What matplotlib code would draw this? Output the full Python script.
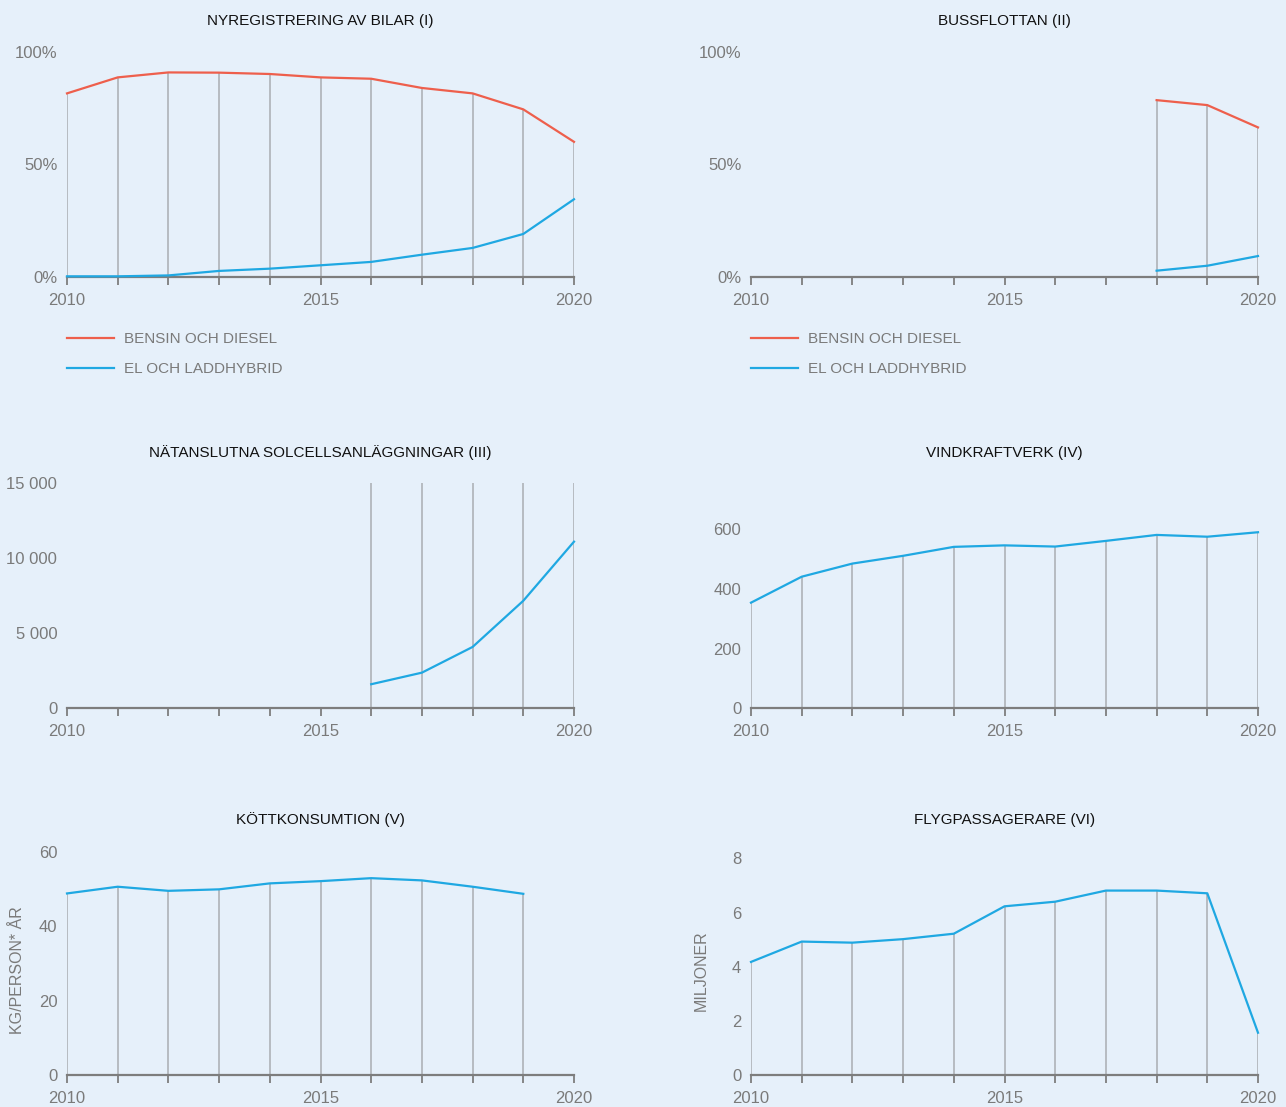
import matplotlib
matplotlib.use('Agg')
import matplotlib.pyplot as plt
import numpy as np
from matplotlib.lines import Line2D

plt.rcParams['font.family'] = ['Liberation Sans', 'DejaVu Sans']

years = list(range(2010, 2021))

bilar_fossil = [81.5, 88.6, 90.8, 90.7, 90.1, 88.6, 88.0, 83.9, 81.5, 74.4, 60.0]
bilar_el = [0.3, 0.3, 0.7, 2.7, 3.7, 5.2, 6.7, 9.9, 12.9, 19.1, 34.5]

buss_years = [2018, 2019, 2020]
buss_fossil = [78.5, 76.3, 66.4]
buss_el = [2.8, 5.0, 9.3]

sol_years = [2016, 2017, 2018, 2019, 2020]
sol = [1600, 2370, 4080, 7150, 11080]

vind = [354, 441, 485, 511, 541, 546, 542, 561, 581, 575, 590]

kott_years = list(range(2010, 2020))
kott = [48.8, 50.6, 49.5, 49.9, 51.5, 52.1, 52.9, 52.3, 50.6, 48.7]

flyg = [4.18, 4.93, 4.89, 5.02, 5.22, 6.23, 6.40, 6.81, 6.81, 6.71, 1.57]

titles = ['NYREGISTRERING AV BILAR (I)', 'BUSSFLOTTAN (II)',
          'NÄTANSLUTNA SOLCELLSANLÄGGNINGAR (III)', 'VINDKRAFTVERK (IV)',
          'KÖTTKONSUMTION (V)', 'FLYGPASSAGERARE (VI)']
legend_labels = ['BENSIN OCH DIESEL', 'EL OCH LADDHYBRID']

BG = '#e6f0fa'
RED = '#ee5f4c'
BLUE = '#1fa8e2'
GRID = '#a9adb2'
AXIS = '#7d7d7d'
TXT = '#7a7a7a'

W, H = 1286, 1107
fig = plt.figure(figsize=(W / 100, H / 100), dpi=100, facecolor=BG)


def make_ax(x0, x1, ytop, ybot):
    ax = fig.add_axes([x0 / W, 1 - ybot / H, (x1 - x0) / W, (ybot - ytop) / H])
    ax.set_facecolor(BG)
    for s in ['top', 'right', 'left']:
        ax.spines[s].set_visible(False)
    ax.spines['bottom'].set_color(AXIS)
    ax.spines['bottom'].set_linewidth(1.6)
    ax.set_xlim(2010, 2020)
    ax.set_xticks(years)
    ax.set_xticklabels([str(y) if y % 5 == 0 else '' for y in years])
    ax.tick_params(axis='x', length=6, width=1.3, color=AXIS, pad=5.5,
                   labelsize=12, labelcolor=TXT)
    ax.tick_params(axis='y', length=0, pad=7, labelsize=12, labelcolor=TXT)
    return ax


def drops(ax, xs, tops):
    ax.vlines(xs, 0, tops, color=GRID, lw=1.1, zorder=1)


def title(ax, text, ypx):
    pos = ax.get_position()
    fig.text(pos.x0 + pos.width / 2, 1 - ypx / H, text, ha='center', va='center',
             fontsize=11, color='#111111')


L1, R1 = 67, 574
L2, R2 = 751, 1258

# (I) nyregistrering
ax1 = make_ax(L1, R1, 51.7, 277)
ax1.set_ylim(0, 100)
ax1.set_yticks([0, 50, 100])
ax1.set_yticklabels(['0%', '50%', '100%'])
drops(ax1, years, bilar_fossil)
ax1.plot(years, bilar_fossil, color=RED, lw=1.6, zorder=3, clip_on=False)
ax1.plot(years, bilar_el, color=BLUE, lw=1.6, zorder=3, clip_on=False)
title(ax1, titles[0], 21)

# (II) bussflottan
ax2 = make_ax(L2, R2, 51.7, 277)
ax2.set_ylim(0, 100)
ax2.set_yticks([0, 50, 100])
ax2.set_yticklabels(['0%', '50%', '100%'])
drops(ax2, buss_years, buss_fossil)
ax2.plot(buss_years, buss_fossil, color=RED, lw=1.6, zorder=3, clip_on=False)
ax2.plot(buss_years, buss_el, color=BLUE, lw=1.6, zorder=3, clip_on=False)
title(ax2, titles[1], 21)

handles = [Line2D([], [], color=RED, lw=1.6), Line2D([], [], color=BLUE, lw=1.6)]
for ax in (ax1, ax2):
    ax.legend(handles, legend_labels, loc='upper left', bbox_to_anchor=(0, -0.245),
              frameon=False, fontsize=11, labelcolor=TXT, handlelength=3.1,
              handletextpad=0.62, labelspacing=1.05, borderpad=0, borderaxespad=0)

# (III) solceller
ax3 = make_ax(L1, R1, 482.7, 708.3)
ax3.set_ylim(0, 15000)
ax3.set_yticks([0, 5000, 10000, 15000])
ax3.set_yticklabels(['0', '5 000', '10 000', '15 000'])
drops(ax3, sol_years, [15000] * len(sol_years))
ax3.plot(sol_years, sol, color=BLUE, lw=1.6, zorder=3, clip_on=False)
title(ax3, titles[2], 453)

# (IV) vindkraft
ax4 = make_ax(L2, R2, 482.7, 708.3)
ax4.set_ylim(0, 756)
ax4.set_yticks([0, 200, 400, 600])
drops(ax4, years, vind)
ax4.plot(years, vind, color=BLUE, lw=1.6, zorder=3, clip_on=False)
title(ax4, titles[3], 453)

# (V) kött
ax5 = make_ax(L1, R1, 851.7, 1075.3)
ax5.set_ylim(0, 60)
ax5.set_yticks([0, 20, 40, 60])
drops(ax5, kott_years, kott)
ax5.plot(kott_years, kott, color=BLUE, lw=1.6, zorder=3, clip_on=False)
ax5.set_ylabel('KG/PERSON* ÅR', fontsize=11.5, color=TXT)
ax5.yaxis.set_label_coords(-0.082, 0.47)
title(ax5, titles[4], 820)

# (VI) flyg
ax6 = make_ax(L2, R2, 851.7, 1075.3)
ax6.set_ylim(0, 8 * 223.6 / 217)
ax6.set_yticks([0, 2, 4, 6, 8])
drops(ax6, years, flyg)
ax6.plot(years, flyg, color=BLUE, lw=1.6, zorder=3, clip_on=False)
ax6.set_ylabel('MILJONER', fontsize=11.5, color=TXT)
ax6.yaxis.set_label_coords(-0.083, 0.47)
title(ax6, titles[5], 820)

fig.savefig('out.png', dpi=100, facecolor=BG)
